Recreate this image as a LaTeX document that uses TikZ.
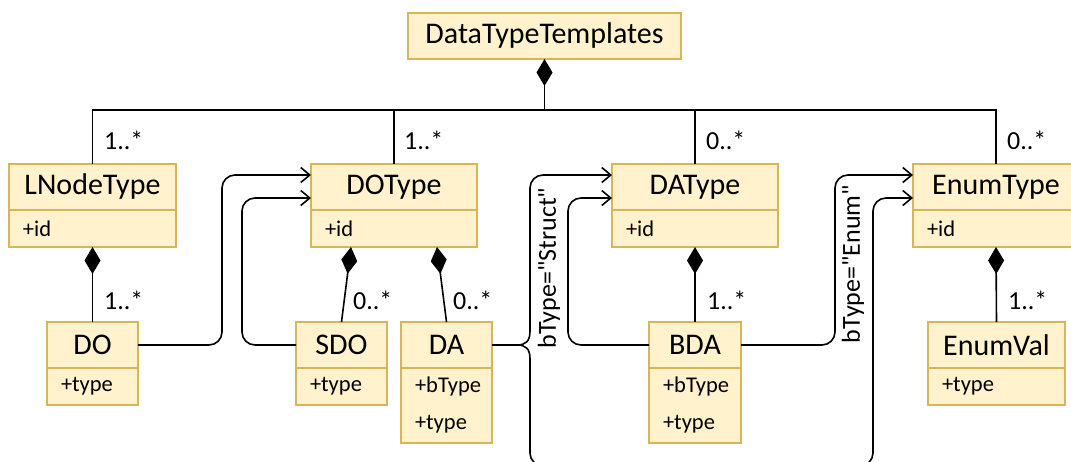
\documentclass[tikz,border=0pt]{standalone}
\usepackage{fontspec}
\setmainfont{Carlito}[Ligatures=TeXOff]
\usetikzlibrary{positioning}
\usetikzlibrary{arrows.meta}
\definecolor{umlfill}{HTML}{FFF2CC}
\definecolor{umlline}{HTML}{D6B656}

\begin{document}
\begin{tikzpicture}[x=1pt, y=-1pt,
  cls/.style = {draw=umlline, fill=umlfill, line width=1.3pt, inner sep=0pt, outer sep=0pt, minimum height=46pt, font=\fontsize{30}{32}\selectfont},
  attr/.style = {draw=umlline, fill=umlfill, line width=1.3pt, inner xsep=14pt, inner ysep=0pt, outer sep=0pt, minimum height=37pt, align=left, font=\fontsize{22.5}{37}\selectfont},
  mult/.style = {inner sep=0pt, anchor=base west, font=\fontsize{26}{28}\selectfont},
  lbl/.style = {inner sep=0pt, rotate=90, font=\fontsize{26}{28}\selectfont},
  link/.style = {line width=1.6pt},
  comp/.style = {link, {Diamond[length=27pt,width=16pt]}-},
  flow/.style = {link, -{Straight Barb[length=9pt,width=15pt]}}]
          \useasboundingbox (0,0) rectangle (1071,462);
          \node[cls, minimum width=273pt] (DTT) at (544.5,36) {DataTypeTemplates};
          \node[cls, minimum width=167pt] (LNodeType) at (92.5,187) {LNodeType};
          \node[attr, text width=139pt, below=0pt of LNodeType] (LNodeTypeA) {+id};
          \node[cls, minimum width=166pt] (DOType) at (394,187) {DOType};
          \node[attr, text width=138pt, below=0pt of DOType] (DOTypeA) {+id};
          \node[cls, minimum width=166pt] (DAType) at (695,187) {DAType};
          \node[attr, text width=138pt, below=0pt of DAType] (DATypeA) {+id};
          \node[cls, minimum width=166pt] (EnumType) at (996,187) {EnumType};
          \node[attr, text width=138pt, below=0pt of EnumType] (EnumTypeA) {+id};
          \node[cls, minimum width=91pt] (DO) at (92.5,345) {DO};
          \node[attr, text width=63pt, below=0pt of DO] (DOA) {+type};
          \node[cls, minimum width=91pt] (SDO) at (341.5,345) {SDO};
          \node[attr, text width=63pt, below=0pt of SDO] (SDOA) {+type};
          \node[cls, minimum width=91pt] (DA) at (446.5,345) {DA};
          \node[attr, text width=63pt, minimum height=75pt, below=0pt of DA] (DAA) {+bType\\+type};
          \node[cls, minimum width=92pt] (BDA) at (695,345) {BDA};
          \node[attr, text width=64pt, minimum height=75pt, below=0pt of BDA] (BDAA) {+bType\\+type};
          \node[cls, minimum width=137pt] (EnumVal) at (996.5,345) {EnumVal};
          \node[attr, text width=109pt, below=0pt of EnumVal] (EnumValA) {+type};
          \coordinate (bus) at (544.5,110);
          \draw[comp] (DTT.south) -- (bus);
          \draw[link] (LNodeType.north) |- (bus) -| (EnumType.north);
          \foreach \n in {DOType,DAType}
            \draw[link] (\n.north |- bus) -- (\n.north);
          \node[mult] (mLNodeType) at ([xshift=11.5pt,yshift=14pt]LNodeType.north) {1..*};
          \node[mult] (mDOType) at ([xshift=10pt,yshift=14pt]DOType.north) {1..*};
          \node[mult] (mDAType) at ([xshift=11pt,yshift=14pt]DAType.north) {0..*};
          \node[mult] (mEnumType) at ([xshift=11pt,yshift=14pt]EnumType.north) {0..*};
          \draw[comp] (LNodeTypeA.south) -- (DO.north);
          \draw[comp] ([xshift=-43pt]DOTypeA.south) -- (SDO.north);
          \draw[comp] ([xshift=43pt]DOTypeA.south) -- (DA.north);
          \draw[comp] (DATypeA.south) -- (BDA.north);
          \draw[comp] (EnumTypeA.south) -- (EnumVal.north);
          \node[mult] (mDO) at ([xshift=11.5pt,yshift=13pt]DO.north) {1..*};
          \node[mult] (mSDO) at ([xshift=11.5pt,yshift=12pt]SDO.north) {0..*};
          \node[mult] (mDA) at ([xshift=6.5pt,yshift=12pt]DA.north) {0..*};
          \node[mult] (mBDA) at ([xshift=12pt,yshift=12pt]BDA.north) {1..*};
          \node[mult] (mEnumVal) at ([xshift=11.5pt,yshift=12pt]EnumVal.north) {1..*};
          \draw[flow, rounded corners=13pt] (DO.east) -- ++(84,0) |- ([yshift=12pt]DOType.west);
          \draw[flow, rounded corners=13pt] (SDO.west) -- ++(-54,0) |- ([yshift=-11pt]DOType.west);
          \draw[flow, rounded corners=13pt] (BDA.west) -- ++(-81,0) |- ([yshift=-11pt]DAType.west);
          \draw[flow, rounded corners=13pt] (BDA.east) -- ++(94,0) |- ([yshift=12pt]EnumType.west);
          \coordinate (tip) at ([xshift=25pt]DA.east);
          \draw[flow] (DA.east) -- (tip) .. controls +(9,0) and +(0,10) .. ++(13,-14)
            [rounded corners=13pt] |- ([yshift=12pt]DAType.west);
          \draw[flow] (DA.east) -- (tip) .. controls +(9,0) and +(0,-10) .. ++(13,14)
            [rounded corners=13pt] -- ++(0,107) -| ([xshift=-40pt,yshift=-11pt]EnumType.west) -- ([yshift=-11pt]EnumType.west);
          \node[lbl] (lStruct) at (549,268) {bType="Struct"};
          \node[lbl] (lEnum) at (853,264) {bType="Enum"};
        \end{tikzpicture}
\end{document}
